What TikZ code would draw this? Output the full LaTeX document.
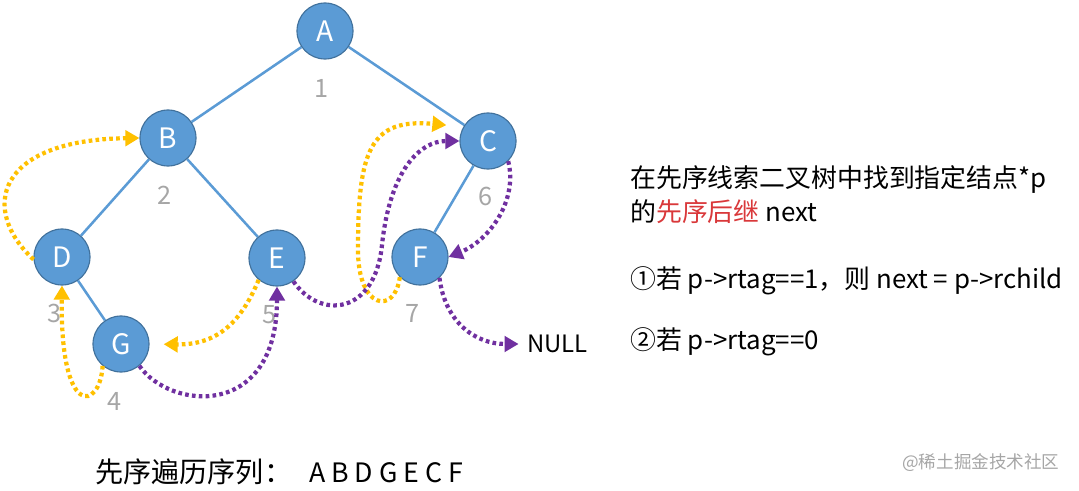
\documentclass[tikz,border=0pt]{standalone}
\usepackage{fontspec}
\setmainfont{Noto Sans CJK SC}
\usetikzlibrary{arrows.meta}

\definecolor{nodeblue}{HTML}{5B9BD5}
\definecolor{nodeline}{HTML}{41719C}
\definecolor{numgray}{HTML}{A6A6A6}
\definecolor{preyellow}{HTML}{FFC000}
\definecolor{postpurple}{HTML}{7030A0}
\definecolor{hilite}{HTML}{D9383A}

\begin{document}
\begin{tikzpicture}[
    x=0.025cm, y=-0.025cm,
    tnode/.style={circle, fill=nodeblue, draw=nodeline, line width=0.8pt,
      minimum size=1.4cm, inner sep=0pt, text=white,
      font=\fontsize{20}{20}\selectfont},
    tedge/.style={draw=nodeblue, line width=1.8pt},
    seqnum/.style={text=numgray, font=\fontsize{18}{18}\selectfont},
    thread/.style={line width=3pt, dash pattern=on 2.6pt off 2.3pt,
      -{Triangle[length=10pt,width=11pt]}},
    prethr/.style={thread, color=preyellow},
    postthr/.style={thread, color=postpurple},
    note/.style={anchor=west, inner sep=0pt, font=\fontsize{18.4}{18.4}\selectfont},
  ]
    \useasboundingbox (0,0) rectangle (1079,491);

    % tree
    \node[tnode] (A) at (325,31) {A};
    \node[tnode] (B) at (168,138) {B};
    \node[tnode] (C) at (488,141) {C};
    \node[tnode] (D) at (62,257) {D};
    \node[tnode] (E) at (277,258) {E};
    \node[tnode] (F) at (420,257) {F};
    \node[tnode] (G) at (121,344) {G};

    \draw[tedge] (A) -- (B);
    \draw[tedge] (A) -- (C);
    \draw[tedge] (B) -- (D);
    \draw[tedge] (B) -- (E);
    \draw[tedge] (D) -- (G);
    \draw[tedge] (C) -- (F);

    % preorder numbers
    \node[seqnum] (n1) at (322,88) {1};
    \node[seqnum] (n2) at (165,195) {2};
    \node[seqnum] (n3) at (55,313) {3};
    \node[seqnum] (n4) at (115,401) {4};
    \node[seqnum] (n5) at (270,315) {5};
    \node[seqnum] (n6) at (486,196) {6};
    \node[seqnum] (n7) at (413,313) {7};

    \node[anchor=west, inner sep=0pt, font=\fontsize{17}{17}\selectfont] (null) at (527,344) {NULL};

    % threads
    \draw[prethr] (D.185) .. controls (-20,210) and (-5,140) .. (B.west);
    \draw[prethr] (G.230) .. controls (100,410) and (60,420) .. (D.south);
    \draw[prethr, shorten >=10pt] (E.230) .. controls (240,325) and (215,345) .. (G.east);
    \draw[prethr, shorten >=12pt] (F.225) .. controls (395,315) and (358,310) .. (358,250)
      .. controls (358,150) and (370,118) .. (C.150);

    \draw[postthr] (G.310) .. controls (170,410) and (277,420) .. (E.south);
    \draw[postthr] (E.305) .. controls (320,320) and (375,315) .. (382,245)
      .. controls (390,170) and (420,141) .. (C.west);
    \draw[postthr] (C.315) .. controls (518,200) and (490,240) .. (F.east);
    \draw[postthr, shorten >=6pt] (F.313) .. controls (445,322) and (475,344) .. (null.west);

    % text
    \node[note] (t1) at (630,180) {在先序线索二叉树中找到指定结点*p};
    \node[note] (t2) at (630,212) {的\textcolor{hilite}{先序后继} next};
    \node[note] (t3) at (630,281) {①若 p->rtag==1，则 next = p->rchild};
    \node[note] (t4) at (630,342) {②若 p->rtag==0};
    \node[anchor=west, inner sep=0pt, font=\fontsize{20}{20}\selectfont] (seq) at (95,472)
      {先序遍历序列：\hspace{12pt}{\fontsize{19}{19}\selectfont A B D G E C F}};
    \node[anchor=west, inner sep=0pt, text=numgray, font=\fontsize{12.5}{12.5}\selectfont] (wm)
      at (902,463) {@稀土掘金技术社区};
\end{tikzpicture}
\end{document}
